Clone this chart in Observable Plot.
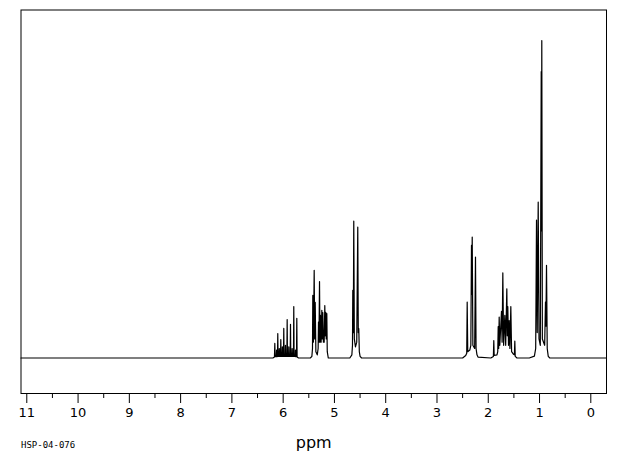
<!DOCTYPE html>
<html>
<head>
<meta charset="utf-8">
<script src="https://cdn.jsdelivr.net/npm/d3@7"></script>
<script src="https://cdn.jsdelivr.net/npm/@observablehq/plot@0.6"></script>
<style>
  html, body { margin: 0; padding: 0; background: #fff; }
  #chart svg { display: block; }
</style>
</head>
<body>
<div id="chart"></div>
<script>
// Spectrum points: chemical shift (ppm) and relative intensity
const ppm = [
  11.113, 6.20,
  6.170, 6.163, 6.156, 6.134, 6.128, 6.122, 6.111, 6.105, 6.099, 6.080, 6.075, 6.070,
  6.052, 6.046, 6.040, 6.020, 6.015, 6.010, 5.994, 5.988, 5.982, 5.960, 5.955, 5.950,
  5.928, 5.922, 5.916, 5.895, 5.890, 5.885, 5.863, 5.857, 5.851, 5.830, 5.825, 5.820,
  5.799, 5.793, 5.787, 5.765, 5.760, 5.755, 5.740, 5.734, 5.728, 5.70,
  5.47, 5.440, 5.428, 5.422, 5.410, 5.395, 5.385, 5.375, 5.362, 5.335, 5.318, 5.311,
  5.302, 5.291, 5.282, 5.272, 5.260, 5.246, 5.237, 5.227, 5.215, 5.200, 5.188, 5.178,
  5.169, 5.160, 5.149, 5.140, 5.120,
  4.70, 4.660, 4.648, 4.642, 4.632, 4.623, 4.612, 4.590, 4.565, 4.545, 4.535, 4.525, 4.515, 4.50, 4.47,
  2.50, 2.44, 2.420, 2.411, 2.400, 2.360, 2.340, 2.327, 2.320, 2.313, 2.300, 2.265, 2.249, 2.238, 2.220, 2.20,
  1.95, 1.900, 1.892, 1.885, 1.830, 1.815, 1.806, 1.797, 1.787, 1.775, 1.742, 1.730, 1.716, 1.700,
  1.677, 1.660, 1.638, 1.628, 1.619, 1.605, 1.592, 1.578, 1.560, 1.545, 1.510, 1.490, 1.482, 1.474, 1.44,
  1.20, 1.10, 1.075, 1.059, 1.045, 1.026, 1.010, 0.985, 0.967, 0.962, 0.956, 0.945, 0.900, 0.884, 0.876,
  0.864, 0.850, 0.830, 0.80,
  -0.306
];
const intensity = [
  0, 0,
  0.3, 4.6, 0.4, 0.4, 2.5, 0.4, 0.5, 7.7, 0.5, 0.5, 3.0, 0.5,
  0.5, 5.8, 0.5, 0.5, 3.5, 0.5, 0.5, 9.3, 0.5, 0.5, 4.0, 0.5,
  0.5, 12.1, 0.5, 0.5, 3.5, 0.5, 0.5, 10.6, 0.5, 0.5, 3.0, 0.5,
  0.5, 16.2, 0.5, 0.5, 2.5, 0.4, 0.4, 12.5, 0.3, 0,
  0, 0.5, 3.0, 19.7, 5.0, 27.6, 6.0, 17.5, 2.0, 1.0, 3.0, 11.3,
  5.0, 24.1, 5.0, 13.4, 5.0, 15.0, 6.0, 14.3, 5.0, 5.0, 16.5, 7.0,
  14.4, 6.0, 14.0, 2.0, 0,
  0, 1.0, 4.0, 21.3, 8.0, 43.1, 6.0, 3.5, 5.0, 41.2, 8.0, 9.3, 2.0, 0.5, 0,
  0, 0.8, 1.5, 17.6, 2.0, 2.5, 4.0, 35.5, 20.0, 38.1, 4.0, 3.0, 31.8, 3.0, 1.0, 0.3,
  0, 0.5, 5.5, 0.8, 1.0, 2.0, 9.9, 3.0, 12.9, 4.0, 14.7, 5.0, 26.8, 4.0,
  13.4, 4.0, 21.8, 7.0, 16.2, 4.0, 11.8, 3.0, 16.2, 2.0, 1.2, 1.0, 5.3, 0.5, 0,
  0, 0.6, 3.0, 43.4, 8.0, 49.1, 6.0, 4.0, 90.2, 40.0, 100, 6.0, 4.0, 17.6, 10.0,
  29.2, 3.0, 0.5, 0,
  0
];

const majorTicks = [11, 10, 9, 8, 7, 6, 5, 4, 3, 2, 1, 0];
const tickLabels = ["11", "10", "9", "8", "7", "6", "5", "4", "3", "2", "1", "0"];
const minorTicks = [10.5, 9.5, 8.5, 7.5, 6.5, 5.5, 4.5, 3.5, 2.5, 1.5, 0.5];
const axisTitle = "ppm";
const sampleId = "HSP-04-076";

const spectrum = ppm.map((p, i) => ({ppm: p, intensity: intensity[i]}));

const chart = Plot.plot({
  width: 620,
  height: 455,
  marginLeft: 20.5,
  marginRight: 14,
  marginTop: 9.5,
  marginBottom: 62,
  style: {background: "#fff", color: "#000", fontFamily: "DejaVu Sans, sans-serif"},
  x: {domain: [11.113, -0.306]},
  y: {domain: [-11.18, 109.6], axis: null},
  marks: [
    Plot.frame({stroke: "#000", strokeWidth: 1}),
    Plot.line(spectrum, {x: "ppm", y: "intensity", stroke: "#000", strokeWidth: 1.2}),
    Plot.axisX(minorTicks, {tickSize: 5, tickFormat: () => "", label: null, stroke: "#000", strokeWidth: 1}),
    Plot.axisX(majorTicks, {
      tickSize: 10, tickPadding: 4, fontSize: 13, label: null, stroke: "#000", strokeWidth: 1,
      tickFormat: d => tickLabels[majorTicks.indexOf(d)]
    }),
    Plot.text([axisTitle], {frameAnchor: "bottom", dy: 49, fontSize: 16, fill: "#000", lineAnchor: "middle"}),
    Plot.text([sampleId], {frameAnchor: "bottom-left", textAnchor: "start", dx: 0, dy: 52, fontSize: 9,
      fontFamily: "DejaVu Sans Mono", fill: "#000", lineAnchor: "middle"})
  ]
});
document.getElementById("chart").appendChild(chart);
</script>
</body>
</html>
